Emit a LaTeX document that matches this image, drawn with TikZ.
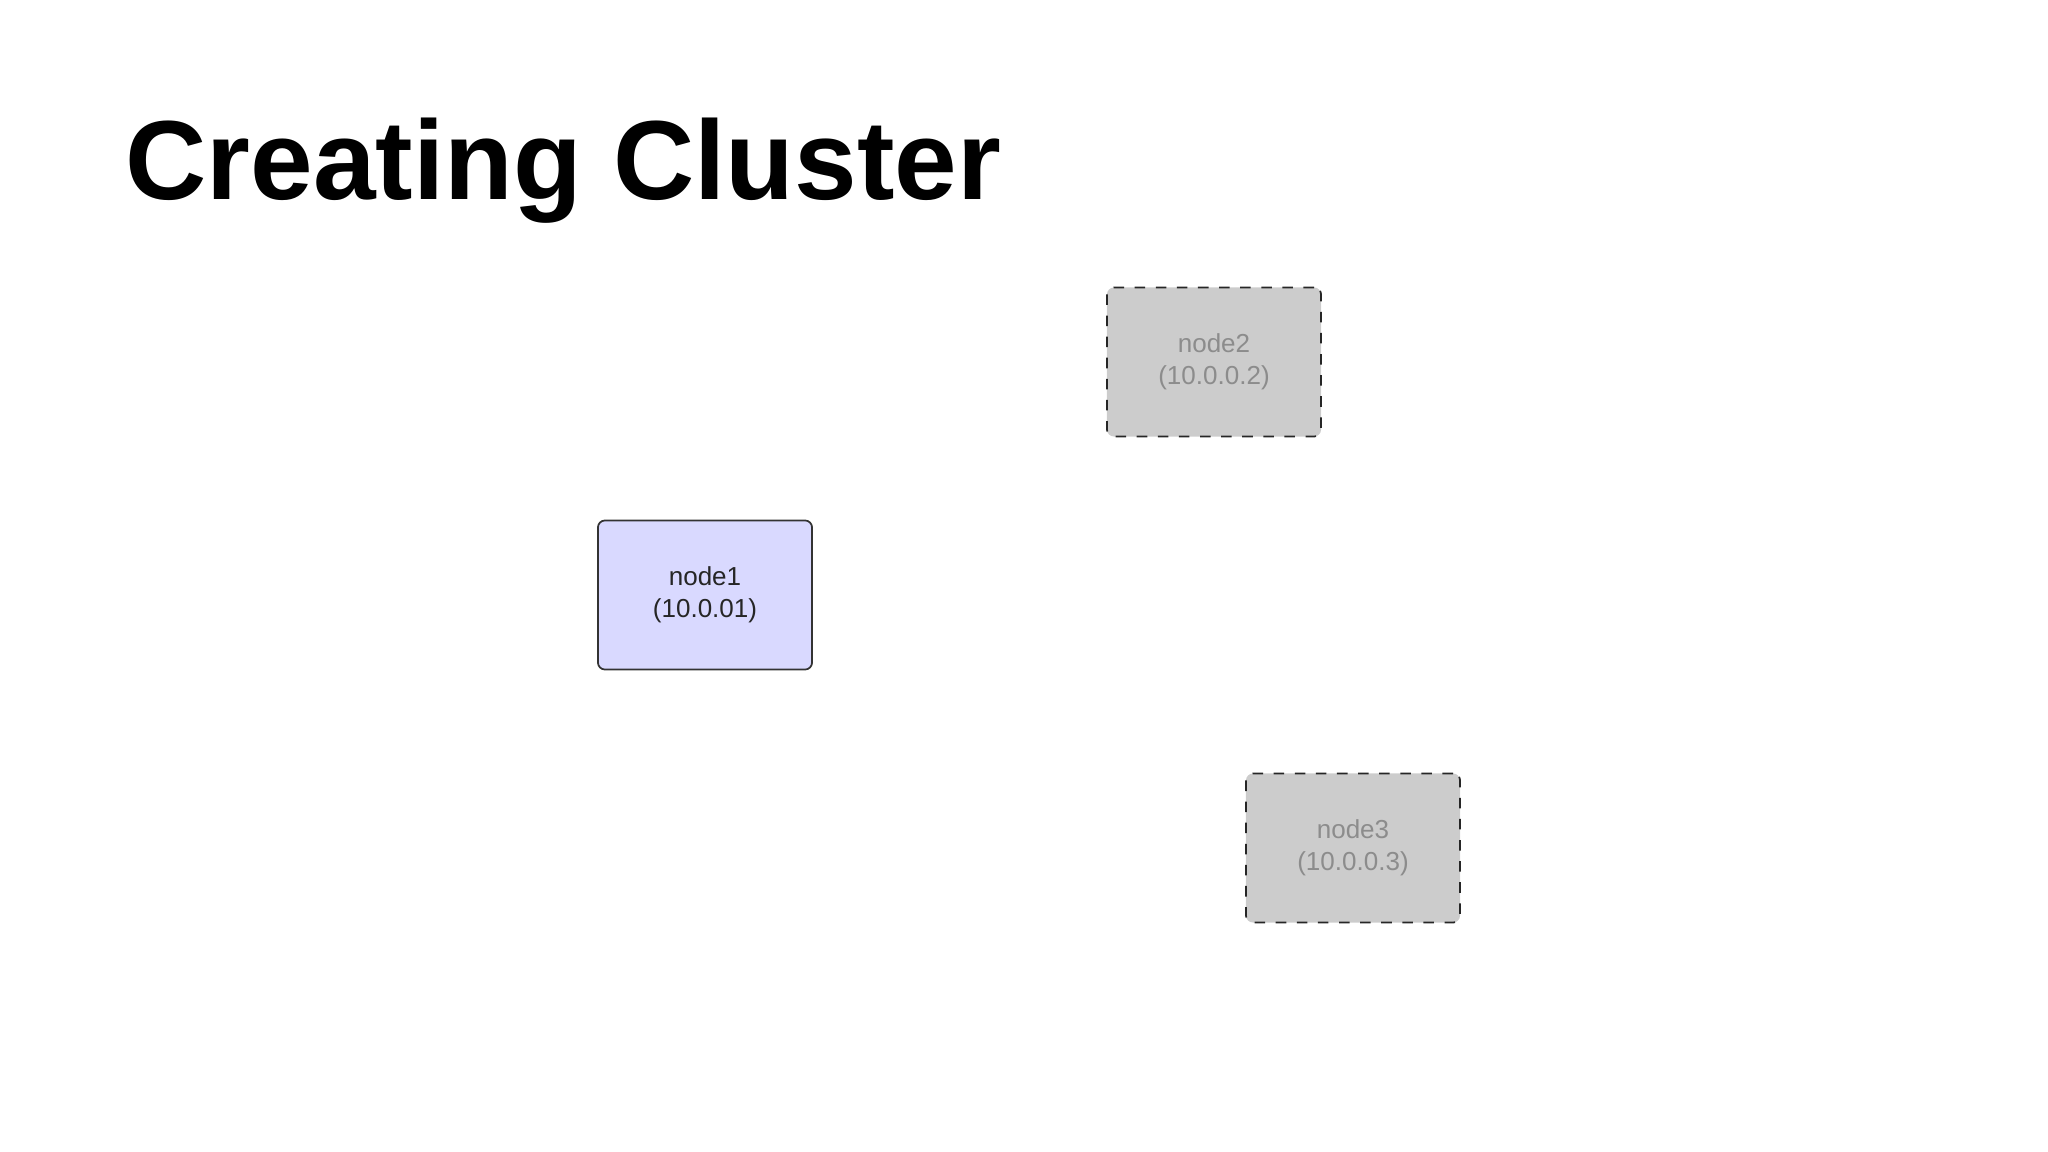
\documentclass[tikz,border=0pt]{standalone}
\usepackage{fontspec}
\setmainfont{Liberation Sans}
\begin{document}
\begin{tikzpicture}[x=0.01cm,y=-0.01cm,
  box/.style={draw, rounded corners=2pt, minimum width=2.14cm, minimum height=1.49cm, align=center, font=\fontsize{7.4}{9}\selectfont, line width=0.5pt},
  ghost/.style={box, dashed, fill=gray!40!white, draw=black!85, text=black!45}]
\useasboundingbox (0,0) rectangle (2048,1152);
\node[anchor=base west, inner sep=0pt, font=\fontsize{32}{36}\selectfont\bfseries] (title) at (125,200) {Creating Cluster};
\node[box, fill=blue!15!white, draw=black!80, text=black!85] (n1) at (705,595) {node1\\(10.0.01)};
\node[ghost] (n2) at (1214,362) {node2\\(10.0.0.2)};
\node[ghost] (n3) at (1353,848) {node3\\(10.0.0.3)};
\end{tikzpicture}
\end{document}
